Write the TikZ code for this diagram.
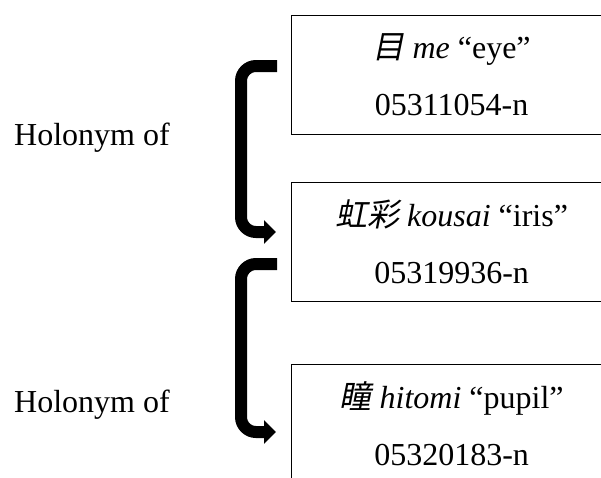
\documentclass[tikz,border=0pt]{standalone}
\usepackage{fontspec}
\setmainfont{Liberation Serif}
\newfontfamily\jpfont[FakeSlant=0.2]{Noto Sans CJK JP}
\usetikzlibrary{arrows.meta}

\begin{document}
\begin{tikzpicture}[x=1pt,y=-1pt,
        synset/.style={draw, line width=1.2pt, anchor=north west, inner sep=0pt,
            minimum width=320pt, minimum height=119pt, align=center,
            font=\fontsize{32}{57}\selectfont},
        relarrow/.style={line width=12pt, rounded corners=15pt,
            -{Triangle[length=12pt,width=23pt]}},
        relname/.style={font=\fontsize{32}{38}\selectfont}]
            \clip (0,0) rectangle (601,477);
            \node[synset] (eye)   at (291, 15) {{\jpfont 目} \textit{me} “eye”\\05311054-n};
            \node[synset] (iris)  at (291,182) {{\jpfont 虹彩} \textit{kousai} “iris”\\05319936-n};
            \node[synset] (pupil) at (291,364) {{\jpfont 瞳} \textit{hitomi} “pupil”\\05320183-n};
            \node[relname] (holA) at ( 92,138) {Holonym of};
            \node[relname] (holB) at ( 92,405) {Holonym of};
            \draw[relarrow] ([xshift=-14pt,yshift=-51pt]eye.north west) -- ++(-36,0)
                 |- ([xshift=-15pt,yshift=-50pt]iris.north west);
            \draw[relarrow] ([xshift=-14pt,yshift=-82pt]iris.north west) -- ++(-36,0)
                 |- ([xshift=-15pt,yshift=-68pt]pupil.north west);
        \end{tikzpicture}
\end{document}
